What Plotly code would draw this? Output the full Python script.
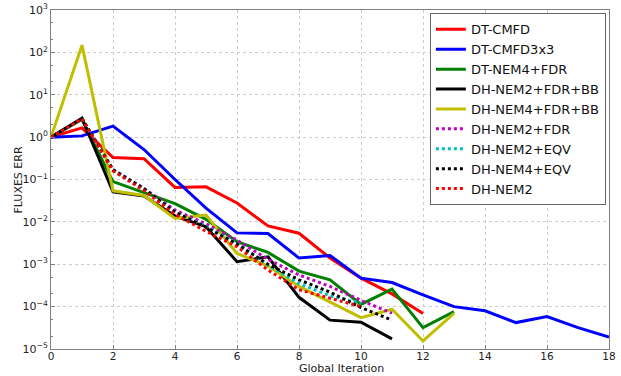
import plotly.graph_objects as go

iters_full = list(range(0, 19))

dt_cmfd = [1.0, 1.65, 0.33, 0.31, 0.065, 0.067, 0.028, 0.008, 0.0054, 0.0014, 0.00047, 0.0002, 0.000069]
dt_cmfd3x3 = [1.0, 1.07, 1.82, 0.51, 0.1, 0.021, 0.0055, 0.0053, 0.0014, 0.0016, 0.00047, 0.00037,
              0.00019, 0.0001, 0.00008, 0.000042, 0.000058, 0.000032, 0.000019]
dt_nem4_fdr = [1.0, 2.6, 0.089, 0.049, 0.027, 0.0115, 0.0034, 0.0019, 0.00069, 0.00043, 0.000113,
               0.00026, 0.000032, 0.000076]
dh_nem2_fdr_bb = [1.0, 2.8, 0.051, 0.041, 0.0137, 0.0077, 0.00115, 0.0015, 0.000166, 0.000048,
                  0.000043, 0.0000173]
dh_nem4_fdr_bb = [1.0, 148.0, 0.054, 0.042, 0.012, 0.0145, 0.0018, 0.00091, 0.0003, 0.000126,
                  0.000055, 0.000087, 0.0000155, 0.000069]
dh_nem2_fdr = [1.0, 2.7, 0.17, 0.062, 0.019, 0.009, 0.0037, 0.0013, 0.00056, 0.0003, 0.00014, 0.00007]
dh_nem2_eqv = [1.0, 2.7, 0.17, 0.06, 0.017, 0.0078, 0.0031, 0.00095, 0.00035, 0.00018, 0.00012]
dh_nem4_eqv = [1.0, 2.75, 0.17, 0.06, 0.017, 0.0075, 0.003, 0.001, 0.00043, 0.00022, 0.000095, 0.000048]
dh_nem2 = [1.0, 2.7, 0.16, 0.055, 0.015, 0.006, 0.0026, 0.00073, 0.00025, 0.00016, 0.0001]

series = [
    ("DT-CMFD", dt_cmfd, "#ff0000", "solid"),
    ("DT-CMFD3x3", dt_cmfd3x3, "#0000ff", "solid"),
    ("DT-NEM4+FDR", dt_nem4_fdr, "#008000", "solid"),
    ("DH-NEM2+FDR+BB", dh_nem2_fdr_bb, "#000000", "solid"),
    ("DH-NEM4+FDR+BB", dh_nem4_fdr_bb, "#bfbf00", "solid"),
    ("DH-NEM2+FDR", dh_nem2_fdr, "#bf00bf", "dot"),
    ("DH-NEM2+EQV", dh_nem2_eqv, "#00bfbf", "dot"),
    ("DH-NEM4+EQV", dh_nem4_eqv, "#000000", "dot"),
    ("DH-NEM2", dh_nem2, "#ff0000", "dot"),
]

x_ticks = [0, 2, 4, 6, 8, 10, 12, 14, 16, 18]
y_exps = [-5, -4, -3, -2, -1, 0, 1, 2, 3]

fig = go.Figure()
for name, vals, color, dash in series:
    fig.add_trace(go.Scatter(
        x=iters_full[:len(vals)], y=vals, name=name, mode="lines",
        line=dict(color=color, width=3, dash=dash),
    ))

font = "DejaVu Sans, sans-serif"
fig.update_layout(
    width=621, height=376,
    margin=dict(l=51, r=12, t=10, b=27),
    paper_bgcolor="white", plot_bgcolor="white",
    font=dict(family=font, size=11, color="#222222"),
    showlegend=True,
    legend=dict(
        x=0.679, y=0.99, xanchor="left", yanchor="top",
        bgcolor="white", bordercolor="#666666", borderwidth=1,
        font=dict(family=font, size=13, color="#111111"),
        tracegroupgap=0, itemwidth=30,
    ),
    xaxis=dict(
        range=[0, 18], tickvals=x_ticks, ticktext=[str(v) for v in x_ticks],
        tickfont=dict(size=10.5),
        showgrid=True, gridcolor="#cccccc", griddash="dot", gridwidth=1,
        showline=True, linecolor="#808080", linewidth=1, mirror=True,
        ticks="inside", ticklen=4, tickcolor="#808080",
        ticklabelstandoff=-3,
        automargin=False, zeroline=False,
    ),
    yaxis=dict(
        type="log", range=[-5, 3],
        tickvals=[10.0 ** e for e in y_exps],
        ticktext=["10<sup>%s</sup>" % (str(e).replace("-", "\u2212")) for e in y_exps],
        showgrid=True, gridcolor="#cccccc", griddash="dot", gridwidth=1,
        showline=True, linecolor="#808080", linewidth=1, mirror=True,
        ticks="inside", ticklen=4, tickcolor="#808080",
        minor=dict(ticks="inside", ticklen=2, tickcolor="#808080", showgrid=False),
        automargin=False, zeroline=False,
    ),
    annotations=[
        dict(text="Global Iteration", xref="paper", yref="paper",
             x=0.52, y=-0.058, xanchor="center", yanchor="middle", showarrow=False,
             font=dict(family=font, size=11, color="#222222")),
        dict(text="FLUXES ERR", xref="paper", yref="paper",
             x=-0.059, y=0.5, xanchor="center", yanchor="middle", showarrow=False,
             textangle=-90, font=dict(family=font, size=11, color="#222222")),
    ],
)

fig.write_html("out.html")
